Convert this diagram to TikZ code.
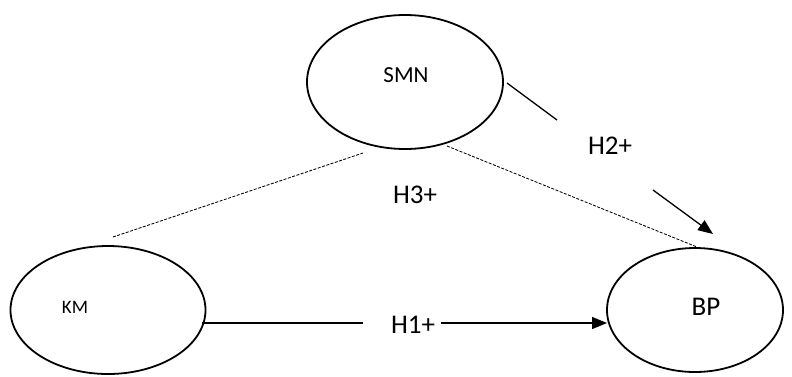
\documentclass[tikz,border=0pt]{standalone}
\usepackage{fontspec}
\setmainfont{Carlito}
\usetikzlibrary{shapes.geometric,arrows.meta}

\tikzset{
  construct/.style={draw, ellipse, line width=1.8pt, inner sep=0pt},
  hyp/.style={font=\fontsize{27}{31}\selectfont},
  path/.style={line width=1.3pt},
  patharrow/.style={path, -{Triangle[length=15pt,width=12pt]}},
  link/.style={line width=0.85pt, dash pattern=on 3pt off 1.5pt},
}

\begin{document}
\begin{tikzpicture}[x=1pt, y=-1pt]
  \useasboundingbox (0,0) rectangle (792,376);

  % constructs
  \node[construct, minimum width=196pt, minimum height=134pt] (smn) at (405,82) {};
  \node[construct, minimum width=195pt, minimum height=128pt] (km) at (108,310) {};
  \node[construct, minimum width=176pt, minimum height=124pt] (bp) at (695,310) {};

  \node[font=\fontsize{23}{27}\selectfont] (smnt) at (406,75) {SMN};
  \node[font=\fontsize{19}{23}\selectfont] (kmt) at (75,307) {KM};
  \node[font=\fontsize{27}{31}\selectfont] (bpt) at (706,307) {BP};

  % hypothesis labels
  \node[hyp] (h1) at (413,325) {H1+};
  \node[hyp] (h2) at (610,146) {H2+};
  \node[hyp] (h3) at (415,195) {H3+};

  % anchor points of the split paths
  \coordinate (h1a) at (202,323);
  \coordinate (h1b) at (363,323);
  \coordinate (h1c) at (441,323);
  \coordinate (h1d) at (607,323);
  \coordinate (h2a) at (507,83);
  \coordinate (h2b) at (557,120);
  \coordinate (h2c) at (653,190);
  \coordinate (h2d) at (713,234);
  \coordinate (h3a) at (113,237);
  \coordinate (h3b) at (363,153);
  \coordinate (h3c) at (447,146);
  \coordinate (h3d) at (697,247);

  % H1: KM -> BP
  \draw[path] (h1a) -- (h1b);
  \draw[patharrow] (h1c) -- (h1d);

  % H2: SMN -> BP
  \draw[path] (h2a) -- (h2b);
  \draw[patharrow] (h2c) -- (h2d);

  % H3: moderation links
  \draw[link] (h3a) -- (h3b);
  \draw[link] (h3c) -- (h3d);
\end{tikzpicture}
\end{document}
